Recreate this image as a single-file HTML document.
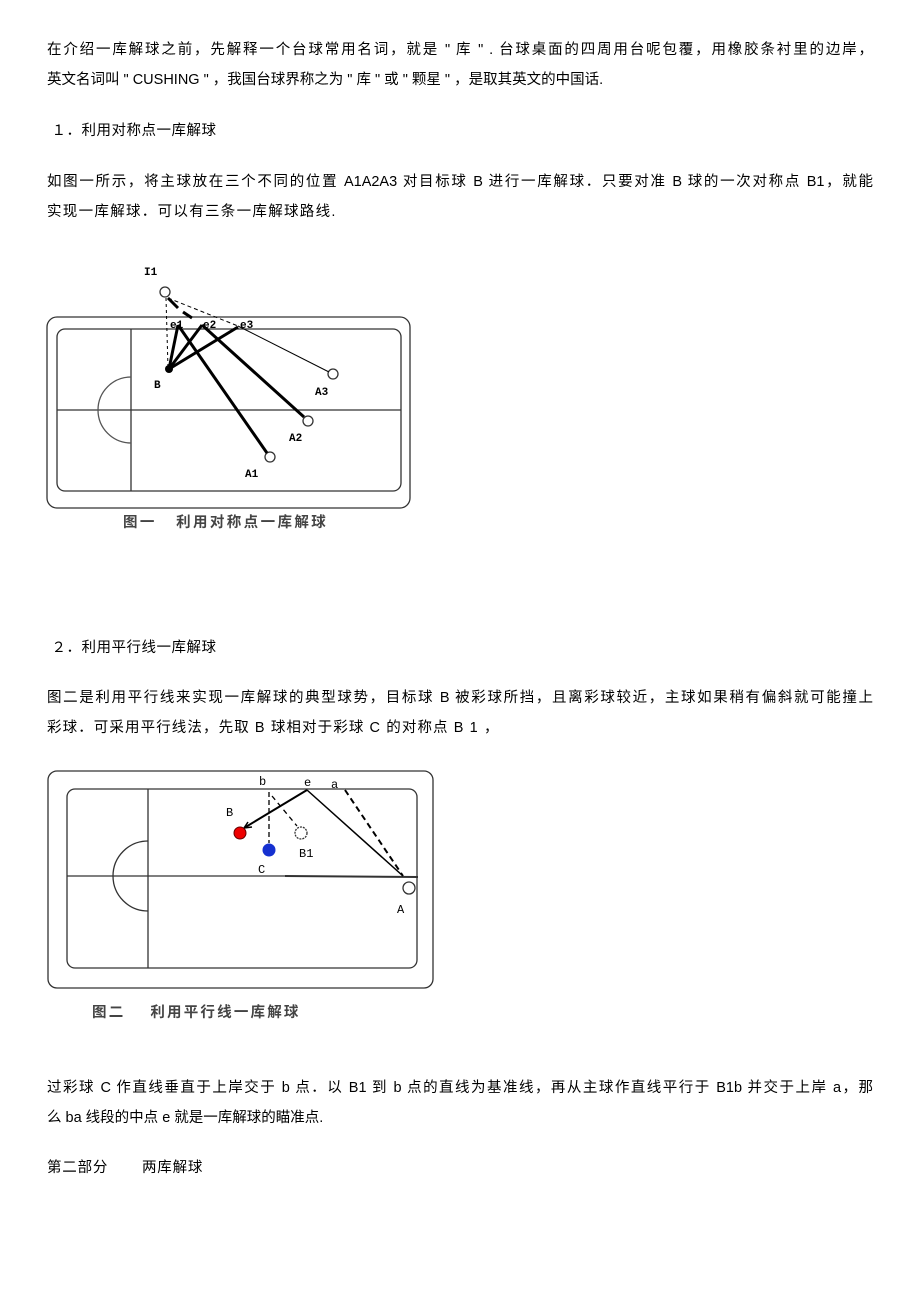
<!DOCTYPE html>
<html><head><meta charset="utf-8"><style>
body{margin:0;width:920px;height:1302px;background:#fff;position:relative;overflow:hidden}
.t{position:absolute;left:47px;font-family:"Liberation Sans","Noto Sans CJK SC",sans-serif;font-size:14.5px;color:#000;white-space:nowrap;line-height:20px}
.j{width:826px;white-space:normal;text-align:justify;text-align-last:justify;text-justify:inter-character;height:20px;overflow:hidden}
svg{position:absolute;left:0;top:0}
</style></head><body>
<div class="t j" style="top:40px">在介绍一库解球之前，先解释一个台球常用名词，就是 " 库 " . 台球桌面的四周用台呢包覆，用橡胶条衬里的边岸，</div>
<div class="t" style="top:70px">英文名词叫 " CUSHING " ，我国台球界称之为 " 库 " 或 " 颗星 " ，是取其英文的中国话.</div>
<div class="t" style="top:121px;letter-spacing:0.5px">&nbsp;１．利用对称点一库解球</div>
<div class="t j" style="top:172px">如图一所示，将主球放在三个不同的位置 A1A2A3 对目标球 B 进行一库解球．只要对准 B 球的一次对称点 B1，就能</div>
<div class="t" style="top:202px;letter-spacing:1.3px">实现一库解球．可以有三条一库解球路线.</div>
<div class="t" style="top:638px;letter-spacing:0.5px">&nbsp;２．利用平行线一库解球</div>
<div class="t j" style="top:688px">图二是利用平行线来实现一库解球的典型球势，目标球 B 被彩球所挡，且离彩球较近，主球如果稍有偏斜就可能撞上</div>
<div class="t" style="top:718px;letter-spacing:1.1px">彩球．可采用平行线法，先取 B 球相对于彩球 C 的对称点 B 1 ，</div>
<div class="t j" style="top:1078px">过彩球 C 作直线垂直于上岸交于 b 点．以 B1 到 b 点的直线为基准线，再从主球作直线平行于 B1b 并交于上岸 a，那</div>
<div class="t" style="top:1108px">么 ba 线段的中点 e 就是一库解球的瞄准点.</div>
<div class="t" style="top:1158px;letter-spacing:0.8px">第二部分&nbsp;&nbsp;&nbsp;&nbsp;&nbsp;&nbsp;&nbsp;两库解球</div>
<svg width="920" height="1302" xmlns="http://www.w3.org/2000/svg" font-family="Liberation Mono,monospace">
<g fill="none" stroke="#333" stroke-width="1.3">
<rect x="47" y="317" width="363" height="191" rx="10"/>
<rect x="57" y="329" width="344" height="162" rx="8"/>
<line x1="131" y1="329" x2="131" y2="491"/>
<line x1="57" y1="410" x2="401" y2="410"/>
<path d="M131 377 A33 33 0 0 0 131 443" stroke="#555"/>
<circle cx="165" cy="292" r="5"/>
<circle cx="333" cy="374" r="5"/>
<circle cx="308" cy="421" r="5"/>
<circle cx="270" cy="457" r="5"/>
</g>
<g stroke="#000" fill="none">
<line x1="166" y1="298" x2="168" y2="368" stroke-dasharray="3,3"/>
<line x1="168" y1="298" x2="238" y2="326" stroke-dasharray="4,3"/>
<line x1="238" y1="326" x2="329" y2="372" stroke-width="1"/>
<g stroke-width="3">
<line x1="169" y1="369" x2="178" y2="325"/>
<line x1="169" y1="369" x2="202" y2="325"/>
<line x1="169" y1="369" x2="238" y2="327"/>
<line x1="178" y1="325" x2="267" y2="453"/>
<line x1="202" y1="325" x2="304" y2="417"/>
<line x1="168" y1="298" x2="178" y2="308"/>
<line x1="183" y1="312" x2="192" y2="318"/>
</g>
</g>
<circle cx="169" cy="369" r="4" fill="#000"/>
<g font-size="11" font-weight="bold" fill="#000">
<text x="144" y="275">I1</text>
<text x="170" y="328">e1</text><text x="203" y="328">e2</text><text x="240" y="328">e3</text>
<text x="154" y="388">B</text><text x="315" y="395">A3</text><text x="289" y="441">A2</text><text x="245" y="477">A1</text>
</g>
<text x="123" y="527" font-family="Liberation Sans,Noto Sans CJK SC,sans-serif" font-size="14.5" font-weight="bold" letter-spacing="2.4" fill="#444">图一&nbsp;&nbsp;&nbsp;利用对称点一库解球</text>
<g fill="none" stroke="#333" stroke-width="1.3">
<rect x="48" y="771" width="385" height="217" rx="9"/>
<rect x="67" y="789" width="350" height="179" rx="8"/>
<line x1="148" y1="789" x2="148" y2="968"/>
<line x1="67" y1="876" x2="285" y2="876"/>
<line x1="285" y1="876" x2="418" y2="877" stroke-width="2"/>
<path d="M148 841 A35 35 0 0 0 148 911"/>
<circle cx="409" cy="888" r="6"/>
<circle cx="301" cy="833" r="6" stroke-dasharray="2,1"/>
</g>
<g stroke="#000" fill="none">
<line x1="307" y1="790" x2="244" y2="828" stroke-width="2"/>
<path d="M244 828 l8 -1 M244 828 l4 -6" stroke-width="1.5"/>
<line x1="307" y1="790" x2="403" y2="876" stroke-width="1.5"/>
<line x1="345" y1="790" x2="403" y2="876" stroke-width="2" stroke-dasharray="6,4"/>
<line x1="269" y1="792" x2="269" y2="843" stroke-width="1.3" stroke-dasharray="5,3"/>
<line x1="272" y1="796" x2="297" y2="826" stroke-width="1.3" stroke-dasharray="5,4"/>
</g>
<circle cx="240" cy="833" r="6" fill="#e00" stroke="#600"/>
<circle cx="269" cy="850" r="6.5" fill="#1530d0"/>
<g font-size="12" fill="#000">
<text x="259" y="785">b</text><text x="304" y="786">e</text><text x="331" y="788">a</text>
<text x="226" y="816">B</text><text x="299" y="857">B1</text><text x="258" y="873">C</text><text x="397" y="913">A</text>
</g>
<text x="92" y="1017" font-family="Liberation Sans,Noto Sans CJK SC,sans-serif" font-size="14.5" font-weight="bold" letter-spacing="2.2" fill="#444">图二&nbsp;&nbsp;&nbsp;&nbsp;利用平行线一库解球</text>
</svg>
</body></html>
